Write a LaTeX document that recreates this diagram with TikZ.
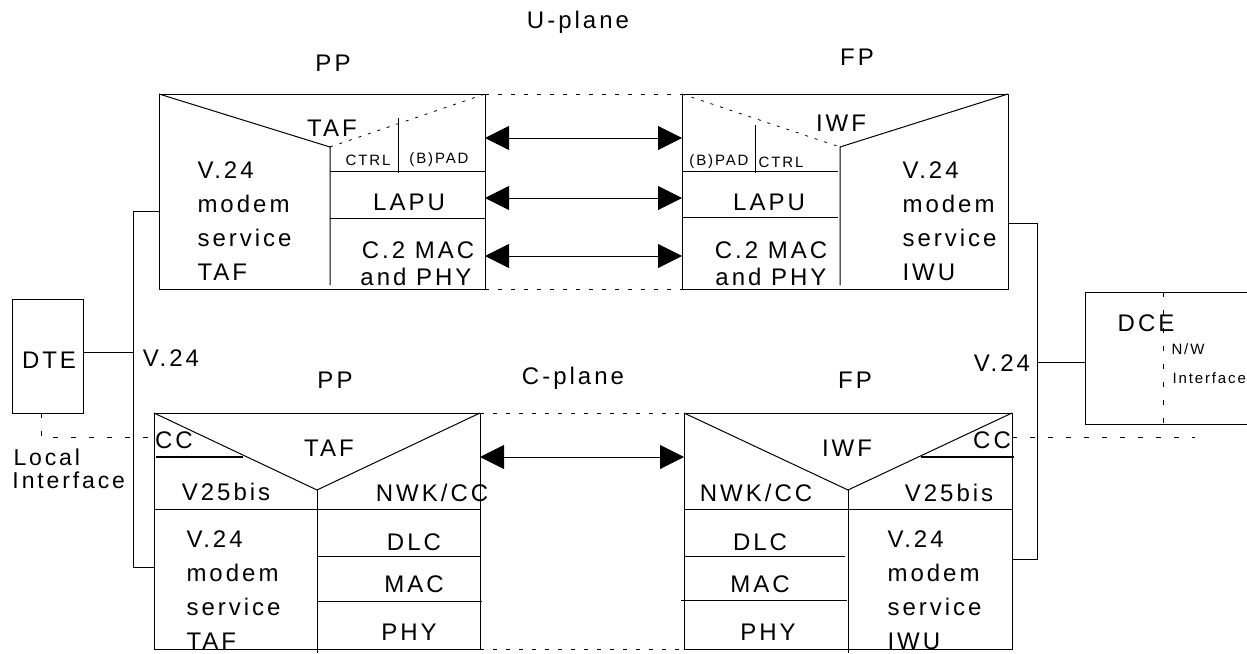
\documentclass[tikz,border=0pt]{standalone}
\usepackage{fontspec}
\setmainfont{Liberation Sans}[LetterSpace=12.5]
\usetikzlibrary{arrows.meta}
\newcommand\fsz[1]{\fontsize{#1}{#1}\selectfont}
\tikzset{
  box/.style={draw, line width=1pt, inner sep=0pt, outer sep=0pt, anchor=north west},
  lbl/.style={inner sep=0pt, font=\fsz{24}},
  sml/.style={inner sep=0pt, font=\fsz{15}},
  stack/.style={inner sep=0pt, anchor=west, align=left, font=\fontsize{24}{34}\selectfont},
  arr/.style={{Triangle[length=24pt,width=24pt]}-{Triangle[length=24pt,width=24pt]}, line width=1pt},
  dplane/.style={line width=1pt, dash pattern=on 4pt off 9pt},
  dshort/.style={line width=0.8pt, dash pattern=on 3pt off 7pt},
  dlong/.style={line width=1pt, dash pattern=on 5pt off 13pt},
  ul/.style={line width=1.8pt},
}
\begin{document}
\begin{tikzpicture}[x=1pt,y=-1pt,line width=1pt]
\useasboundingbox (0,0) rectangle (1247,653);

% ---------- titles
\node[lbl] (uplane) at (578,22) {U-plane};
\node[lbl] (cplane) at (573,378) {C-plane};
\node[lbl] (ppu-t) at (333,63) {PP};
\node[lbl] (fpu-t) at (857,57) {FP};
\node[lbl] (ppc-t) at (335,380) {PP};
\node[lbl] (fpc-t) at (855,380) {FP};

% ---------- U-plane PP box
\node[box, minimum width=326pt, minimum height=195pt] (ppu) at (159,94) {};
\draw (159,94) -- (330,147) -- (330,285);
\draw[dshort] (330,147) -- (485,94);
\draw (398,118) -- (398,173);
\draw (330,171) -- (485,171);
\draw (330,218) -- (485,218);
\node[lbl] (ppu-taf) at (332,128) {TAF};
\node[sml] (ppu-ctrl) at (368,160) {CTRL};
\node[sml] (ppu-pad) at (439,160) {(B)PAD};
\node[lbl] (ppu-lapu) at (409,202) {LAPU};
\node[lbl] (ppu-mac) at (418,250) {C.2 MAC};
\node[lbl] (ppu-phy) at (416,277) {and PHY};
\node[stack] (ppu-v24) at (197,221) {V.24\\modem\\service\\TAF};

% ---------- U-plane FP box
\node[box, minimum width=326pt, minimum height=195pt] (fpu) at (682,94) {};
\draw (1008,94) -- (840,147) -- (840,285);
\draw[dshort] (682,94) -- (840,147);
\draw (755,125) -- (755,173);
\draw (682,171) -- (838,171);
\draw (682,217) -- (838,217);
\node[lbl] (fpu-iwf) at (841,123) {IWF};
\node[sml] (fpu-pad) at (719,162) {(B)PAD};
\node[sml] (fpu-ctrl) at (781,162) {CTRL};
\node[lbl] (fpu-lapu) at (769,202) {LAPU};
\node[lbl] (fpu-mac) at (771,250) {C.2 MAC};
\node[lbl] (fpu-phy) at (771,277) {and PHY};
\node[stack] (fpu-v24) at (902,221) {V.24\\modem\\service\\IWU};

% U-plane links
\draw[dplane] (ppu.north east) -- (fpu.north west);
\draw[dplane] (ppu.south east) -- (fpu.south west);
\draw[arr] (ppu.east |- 0,138) -- (fpu.west |- 0,138);
\draw[arr] (ppu.east |- 0,198) -- (fpu.west |- 0,198);
\draw[arr] (ppu.east |- 0,256) -- (fpu.west |- 0,256);

% ---------- C-plane PP box
\node[box, minimum width=326pt, minimum height=236pt] (ppc) at (154,413) {};
\draw (154,413) -- (317,490) -- (480,413);
\draw (317,490) -- (317,653);
\draw (154,509) -- (480,509);
\draw (317,556) -- (480,556);
\draw (317,601) -- (482,601);
\draw[ul] (156,457) -- (243,457);
\node[lbl] (ppc-cc) at (174,440) {CC};
\node[lbl] (ppc-taf) at (329,448) {TAF};
\node[lbl] (ppc-v25) at (226,492) {V25bis};
\node[lbl] (ppc-nwk) at (432,493) {NWK/CC};
\node[lbl] (ppc-dlc) at (414,542) {DLC};
\node[lbl] (ppc-mac) at (414,584) {MAC};
\node[lbl] (ppc-phy) at (409,632) {PHY};
\node[stack] (ppc-v24) at (186,590) {V.24\\modem\\service\\TAF};

% ---------- C-plane FP box
\node[box, minimum width=328pt, minimum height=236pt] (fpc) at (684,413) {};
\draw (684,413) -- (848,490) -- (1012,413);
\draw (848,490) -- (848,653);
\draw (684,509) -- (1012,509);
\draw (684,556) -- (845,556);
\draw (681,600) -- (847,600);
\draw[ul] (921,457) -- (1014,457);
\node[lbl] (fpc-iwf) at (847,448) {IWF};
\node[lbl] (fpc-cc) at (992,440) {CC};
\node[lbl] (fpc-nwk) at (756,493) {NWK/CC};
\node[lbl] (fpc-v25) at (949,493) {V25bis};
\node[lbl] (fpc-dlc) at (760,542) {DLC};
\node[lbl] (fpc-mac) at (760,584) {MAC};
\node[lbl] (fpc-phy) at (768,632) {PHY};
\node[stack] (fpc-v24) at (887,590) {V.24\\modem\\service\\IWU};

% C-plane links
\draw[dplane] (ppc.north east) -- (fpc.north west);
\draw[dplane] (ppc.south east) -- (fpc.south west);
\draw[arr] (ppc.east |- 0,457) -- (fpc.west |- 0,457);

% ---------- DTE side
\node[box, minimum width=71pt, minimum height=114pt] (dte) at (12,299) {};
\node[lbl] (dte-t) at (49,360) {DTE};
\coordinate (jl) at (133,352);
\draw (dte.east |- jl) -- (jl);
\draw (ppu.west |- 0,211) -- (133,211) -- (133,567) -- (ppc.west |- 0,567);
\node[lbl] (v24l) at (171,358) {V.24};
\draw[dlong] (dte.south -| 41,0) -- (41,437) -- (ppc.west |- 0,437);
\node[lbl, anchor=west, font=\fsz{23}] (loc1) at (13,457) {Local};
\node[lbl, anchor=west, font=\fsz{23}] (loc2) at (12,480) {Interface};

% ---------- DCE side
\node[box, minimum width=200pt, minimum height=132pt] (dce) at (1085,292) {};
\draw[dlong] (1163,292) -- (1163,424);
\node[lbl] (dce-t) at (1146,323) {DCE};
\node[inner sep=0pt, anchor=west, font=\fsz{15}] (nw1) at (1171,349) {N/W};
\node[inner sep=0pt, anchor=west, font=\fsz{15}] (nw2) at (1172,378) {Interface};
\coordinate (jr) at (1037,362);
\draw (fpu.east |- 0,223) -- (1037,223) -- (1037,559) -- (fpc.east |- 0,559);
\draw (jr) -- (dce.west |- jr);
\node[lbl] (v24r) at (1002,363) {V.24};
\draw[dlong] (fpc.east |- 0,437) -- (1195,437);
\end{tikzpicture}
\end{document}
